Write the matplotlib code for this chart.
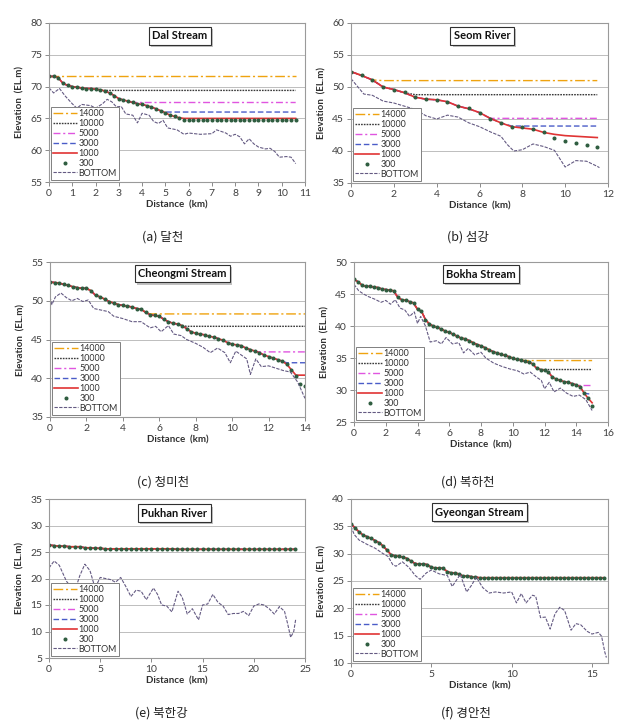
import numpy as np
import matplotlib
matplotlib.use("Agg")
import matplotlib.pyplot as plt
import matplotlib.patheffects as pe

plt.rcParams['font.family'] = ['Lato', 'DejaVu Sans']

W, H = 633, 726

series_labels = ["14000", "10000", "5000", "3000", "1000", "300", "BOTTOM"]

# ---------------- (a) Dal Stream ----------------
a_x = np.round(np.arange(0, 10.61, 0.2), 2)
a_q1000 = [71.6, 71.6, 71.4, 70.5, 70.2, 70.0, 69.9, 69.8, 69.7, 69.7, 69.6, 69.5, 69.3, 69.0,
           68.6, 68.1, 67.9, 67.7, 67.5, 67.3, 67.2, 67.0, 66.8, 66.5, 66.2, 65.9, 65.5, 65.3,
           65.1, 65.0] + [65.0] * 24
a_q300 = a_q1000[:29] + [64.8] * 25
a_levels = [71.6, 69.4, 67.5, 66.0]
a_bx = [0, 0.2, 0.45, 0.7, 1.0, 1.2, 1.4, 1.8, 2.0, 2.3, 2.5, 2.7, 2.9, 3.1, 3.3, 3.6, 3.8, 4.0,
        4.3, 4.5, 4.7, 4.9, 5.1, 5.5, 5.8, 6.0, 6.5, 7.0, 7.2, 7.6, 7.8, 8.0, 8.2, 8.4, 8.6, 8.8,
        9.0, 9.3, 9.5, 9.7, 9.9, 10.2, 10.4, 10.6]
a_by = [69.8, 69.0, 69.7, 68.5, 67.3, 66.6, 67.2, 67.0, 66.6, 67.3, 68.0, 67.6, 66.8, 66.9, 65.7,
        65.5, 64.3, 65.8, 65.5, 64.5, 64.2, 64.7, 63.5, 63.2, 62.5, 62.7, 62.5, 62.6, 63.2, 62.7,
        62.2, 62.5, 62.1, 61.0, 61.8, 61.0, 60.5, 60.2, 60.3, 59.8, 58.9, 59.0, 58.9, 57.9]

# ---------------- (b) Seom River ----------------
b_x = np.round(np.arange(0, 11.51, 0.5), 2)
b_q1000 = [52.4, 51.8, 51.1, 50.0, 49.6, 49.1, 48.4, 48.1, 48.0, 47.7, 47.0, 46.6, 46.0, 45.1,
           44.4, 43.8, 43.6, 43.4, 42.9, 42.6, 42.4, 42.3, 42.2, 42.1]
b_q300 = [52.4, 51.8, 51.1, 50.0, 49.6, 49.2, 48.5, 48.1, 48.0, 47.7, 47.0, 46.7, 46.0, 45.0,
          44.3, 43.8, 43.7, 43.5, 42.9, 42.1, 41.6, 41.3, 40.9, 40.7]
b_levels = [51.0, 48.8, 45.1, 43.9]
b_bx = [0, 0.2, 0.6, 1.0, 1.5, 2.0, 2.5, 3.0, 3.5, 4.0, 4.5, 5.0, 5.5, 6.0, 6.5, 7.0, 7.3, 7.6,
        8.0, 8.5, 9.0, 9.5, 10.0, 10.5, 11.0, 11.5, 11.6]
b_by = [51.3, 50.5, 48.9, 48.7, 47.8, 47.5, 47.0, 46.5, 45.5, 45.0, 45.6, 45.3, 44.4, 43.8, 43.0,
        42.3, 41.0, 40.0, 40.2, 41.1, 40.7, 40.1, 37.5, 38.5, 38.4, 37.6, 37.4]

# ---------------- (c) Cheongmi Stream ----------------
c_x = np.round(np.arange(0, 14.01, 0.25), 2)
c_q1000 = [52.4, 52.35, 52.3, 52.1, 52.0, 51.8, 51.7, 51.6, 51.6, 51.3, 50.7, 50.5, 50.2, 49.9,
           49.7, 49.5, 49.4, 49.3, 49.2, 49.0, 48.9, 48.5, 48.2, 48.1, 48.0, 47.6, 47.3, 47.1,
           47.0, 46.8, 46.4, 46.0, 45.8, 45.7, 45.6, 45.4, 45.3, 45.1, 44.9, 44.6, 44.4, 44.3,
           44.2, 43.9, 43.7, 43.5, 43.3, 43.0, 42.8, 42.6, 42.4, 42.2, 41.8, 41.1, 40.4, 40.4, 40.4]
c_q300 = c_q1000[:54] + [40.3, 39.3, 39.0]
c_levels = [48.3, 46.7, 43.4, 42.0]
c_bx = [0, 0.1, 0.3, 0.6, 0.9, 1.2, 1.5, 1.8, 2.1, 2.4, 2.8, 3.2, 3.5, 4.0, 4.5, 5.0, 5.5, 5.8,
        6.1, 6.5, 6.8, 7.2, 7.5, 8.0, 8.4, 8.8, 9.2, 9.6, 9.9, 10.2, 10.5, 10.8, 11.0, 11.3, 11.6,
        12.0, 12.4, 12.8, 13.2, 13.6, 14.0]
c_by = [50.5, 49.5, 50.5, 51.0, 50.4, 50.0, 50.3, 49.9, 50.1, 49.0, 48.8, 48.6, 48.0, 47.7, 47.3,
        47.3, 46.5, 46.7, 46.0, 46.8, 45.7, 45.5, 45.0, 44.5, 44.0, 43.3, 43.9, 43.3, 42.0, 43.5,
        43.0, 42.5, 40.5, 42.5, 41.5, 41.6, 41.3, 41.0, 40.8, 39.5, 37.4]

# ---------------- (d) Bokha Stream ----------------
d_x = np.round(np.arange(0, 15.01, 0.25), 2)
d_q1000 = [47.3, 46.9, 46.4, 46.2, 46.2, 46.1, 46.0, 45.8, 45.7, 45.6, 45.5, 44.5, 44.1, 44.0,
           43.8, 43.6, 42.6, 42.3, 41.0, 40.3, 40.0, 39.8, 39.5, 39.2, 39.0, 38.7, 38.4, 38.1,
           38.0, 37.7, 37.4, 37.1, 36.9, 36.6, 36.3, 36.0, 35.8, 35.6, 35.4, 35.2, 35.0, 34.8,
           34.7, 34.5, 34.3, 34.1, 33.4, 33.2, 33.1, 32.8, 32.0, 31.7, 31.5, 31.3, 31.2, 31.0,
           30.8, 30.5, 29.5, 28.7, 28.0]
d_q300 = d_q1000[:60] + [27.5]
d_levels = [34.6, 33.2, 30.7, 29.4]
d_bx = [0, 0.3, 0.6, 0.9, 1.3, 1.7, 2.0, 2.3, 2.6, 2.9, 3.2, 3.5, 3.8, 4.0, 4.2, 4.5, 4.8, 5.2,
        5.5, 5.8, 6.2, 6.6, 6.9, 7.2, 7.6, 8.0, 8.3, 8.8, 9.3, 9.8, 10.3, 10.7, 11.1, 11.5, 11.8,
        12.0, 12.3, 12.6, 13.0, 13.4, 13.8, 14.2, 14.6, 15.0]
d_by = [46.5, 45.5, 45.0, 44.6, 44.2, 43.7, 44.0, 43.4, 44.1, 42.8, 42.5, 41.5, 42.2, 40.4, 41.5,
        40.0, 37.5, 37.7, 37.2, 38.2, 37.2, 37.4, 35.8, 36.5, 35.5, 35.9, 35.0, 34.2, 33.7, 33.3,
        33.0, 32.5, 32.8, 32.0, 31.5, 30.2, 31.2, 29.7, 30.3, 29.5, 29.0, 29.2, 28.5, 26.8]

# ---------------- (e) Pukhan River ----------------
e_x = np.round(np.arange(0, 24.01, 0.5), 2)
e_q1000 = [26.3, 26.2, 26.1, 26.1, 26.0, 26.0, 26.0, 25.8, 25.8, 25.7, 25.7] + [25.6] * 14 + [25.5] * 24
e_q300 = list(e_q1000)
e_levels = [25.5, 25.5, 25.5, 25.5]
e_bx = [0, 0.5, 1.0, 1.7, 2.5, 3.0, 3.5, 4.0, 4.5, 5.0, 6.0, 6.5, 7.0, 7.5, 8.0, 8.5, 9.0, 9.5,
        10.2, 10.6, 11.0, 11.5, 12.0, 12.6, 13.0, 13.5, 14.0, 14.6, 15.0, 15.5, 16.0, 16.5, 17.0,
        17.5, 18.0, 18.5, 19.0, 19.5, 20.0, 20.5, 21.0, 21.5, 22.0, 22.5, 23.0, 23.3, 23.6, 23.9, 24.1]
e_by = [22.0, 23.3, 22.5, 19.5, 17.5, 20.5, 22.7, 21.5, 18.2, 20.2, 19.8, 19.3, 20.2, 18.5, 16.6,
        17.8, 17.6, 16.0, 18.2, 17.0, 15.0, 14.8, 13.7, 17.6, 16.5, 13.3, 14.3, 12.2, 15.0, 15.2,
        17.0, 15.5, 14.8, 13.2, 13.4, 13.4, 13.8, 13.0, 14.8, 15.2, 15.0, 14.3, 13.3, 14.7, 13.8,
        11.5, 8.9, 10.0, 12.4]

# ---------------- (f) Gyeongan Stream ----------------
f_x = np.round(np.arange(0, 15.76, 0.25), 2)
f_q1000 = [35.5, 34.7, 34.0, 33.4, 33.1, 32.8, 32.4, 32.0, 31.4, 30.6, 29.8, 29.6, 29.5, 29.4,
           29.1, 28.6, 28.2, 28.1, 28.1, 28.0, 27.5, 27.4, 27.4, 27.3, 26.7, 26.5, 26.5, 26.2,
           25.9, 25.9, 25.8, 25.7] + [25.6] * 32
f_q300 = list(f_q1000)
f_levels = [25.6, 25.6, 25.6, 25.6]
f_bx = [0, 0.2, 0.5, 1.0, 1.5, 2.0, 2.3, 2.6, 2.8, 3.2, 3.6, 4.0, 4.3, 4.7, 5.0, 5.5, 6.0, 6.3,
        6.6, 6.8, 7.2, 7.5, 7.8, 8.2, 8.6, 9.0, 9.5, 10.0, 10.3, 10.6, 10.9, 11.3, 11.5, 11.8,
        12.1, 12.4, 12.7, 13.0, 13.3, 13.7, 14.0, 14.3, 14.7, 15.0, 15.4, 15.6, 15.8, 15.9]
f_by = [35.0, 33.5, 32.5, 31.7, 31.0, 30.0, 29.5, 28.0, 27.7, 28.5, 27.5, 26.0, 25.3, 26.5, 27.0,
        26.3, 26.0, 24.0, 25.3, 26.2, 23.0, 24.2, 25.7, 23.8, 22.8, 23.0, 22.8, 23.0, 21.0, 22.7,
        21.0, 22.4, 22.2, 18.3, 18.4, 16.2, 19.0, 20.2, 19.6, 16.0, 17.2, 17.0, 15.8, 15.3, 15.6,
        14.9, 12.0, 11.0]

panels = [
    dict(title="Dal Stream", cap="(a) 달천", x=a_x, q1000=a_q1000, q300=a_q300, lv=a_levels,
         bx=a_bx, by=a_by, xlim=(0, 11), xt=np.arange(0, 12, 1), ylim=(55, 80), yt=np.arange(55, 81, 5),
         box=(49, 23, 305, 182), tpos=(0.51, 0.92), cpos=(163, 237)),
    dict(title="Seom River", cap="(b) 섬강", x=b_x, q1000=b_q1000, q300=b_q300, lv=b_levels,
         bx=b_bx, by=b_by, xlim=(0, 12), xt=np.arange(0, 13, 2), ylim=(35, 60), yt=np.arange(35, 61, 5),
         box=(351, 23, 608, 183), tpos=(0.51, 0.92), cpos=(468, 237)),
    dict(title="Cheongmi Stream", cap="(c) 청미천", x=c_x, q1000=c_q1000, q300=c_q300, lv=c_levels,
         bx=c_bx, by=c_by, xlim=(0, 14), xt=np.arange(0, 15, 2), ylim=(35, 55), yt=np.arange(35, 56, 5),
         box=(50, 262, 305, 417), tpos=(0.52, 0.925), cpos=(163, 482)),
    dict(title="Bokha Stream", cap="(d) 복하천", x=d_x, q1000=d_q1000, q300=d_q300, lv=d_levels,
         bx=d_bx, by=d_by, xlim=(0, 16), xt=np.arange(0, 17, 2), ylim=(25, 50), yt=np.arange(25, 51, 5),
         box=(354, 262, 608, 422), tpos=(0.50, 0.925), cpos=(468, 482)),
    dict(title="Pukhan River", cap="(e) 북한강", x=e_x, q1000=e_q1000, q300=e_q300, lv=e_levels,
         bx=e_bx, by=e_by, xlim=(0, 25), xt=np.arange(0, 26, 5), ylim=(5, 35), yt=np.arange(5, 36, 5),
         box=(49, 499, 305, 658), tpos=(0.49, 0.91), cpos=(161, 713)),
    dict(title="Gyeongan Stream", cap="(f) 경안천", x=f_x, q1000=f_q1000, q300=f_q300, lv=f_levels,
         bx=f_bx, by=f_by, xlim=(0, 16), xt=np.arange(0, 16, 5), ylim=(10, 40), yt=np.arange(10, 41, 5),
         box=(351, 499, 608, 663), tpos=(0.50, 0.92), cpos=(466, 713)),
]

styles = [
    dict(color='#EFA30F', ls=(0, (7, 2, 1.5, 2)), lw=1.0),
    dict(color='#3A3A3A', ls=(0, (1.2, 0.8)), lw=1.0),
    dict(color='#E055E0', ls=(0, (5, 2, 1.5, 2)), lw=1.0),
    dict(color='#4A5CC8', ls=(0, (4, 2)), lw=1.0),
    dict(color='#E03434', ls='-', lw=1.2),
]
dot_color = '#2F5D40'
bottom_style = dict(color='#645A82', ls=(0, (3, 1.2)), lw=0.8)

fig = plt.figure(figsize=(W / 100, H / 100), dpi=100)

for p in panels:
    l, t, r, b = p['box']
    ax = fig.add_axes([l / W, 1 - b / H, (r - l) / W, (b - t) / H])
    x = np.asarray(p['x'])
    q1000 = np.asarray(p['q1000'])
    for lvl, st, lab in zip(p['lv'], styles[:4], series_labels[:4]):
        ax.plot(x, np.maximum(q1000, lvl), label=lab, **st)
    ax.plot(x, q1000, label=series_labels[4], **styles[4])
    ax.plot(x, p['q300'], 'o', ms=1.9, color=dot_color, mec=dot_color, label=series_labels[5])
    ax.plot(p['bx'], p['by'], label=series_labels[6], **bottom_style)

    ax.set_xlim(*p['xlim'])
    ax.set_ylim(*p['ylim'])
    ax.set_xticks(p['xt'])
    ax.set_yticks(p['yt'])
    ax.yaxis.grid(True, color='#BDBDBD', lw=0.7)
    ax.set_axisbelow(True)
    for s in ax.spines.values():
        s.set_color('#9A9A9A')
        s.set_linewidth(0.8)
    ax.tick_params(axis='both', labelsize=7.5, colors='#8A8A8A', labelcolor='#404040',
                   length=3, width=0.7, pad=2)
    ax.set_xlabel("Distance  (km)", fontsize=7, fontweight='bold', color='#303030', labelpad=2)
    ax.set_ylabel("Elevation  (EL.m)", fontsize=7, fontweight='bold', color='#303030', labelpad=4)

    ax.text(p['tpos'][0], p['tpos'][1], p['title'], transform=ax.transAxes, ha='center', va='center',
            fontsize=8, fontweight='bold', color='#111111',
            bbox=dict(boxstyle='square,pad=0.3', fc='white', ec='#303030', lw=0.8,
                      path_effects=[pe.withSimplePatchShadow(offset=(1.5, -1.5), shadow_rgbFace='#999999', alpha=0.6)]))

    leg = ax.legend(loc='lower left', bbox_to_anchor=(0.0, 0.0), fontsize=6.4, frameon=True,
                    fancybox=False, edgecolor='#808080', framealpha=1, borderpad=0.25,
                    labelspacing=0.1, handlelength=2.6, handletextpad=0.2, borderaxespad=0.25,
                    markerscale=1.0)
    leg.get_frame().set_linewidth(0.7)
    for txt in leg.get_texts():
        txt.set_color('#303030')

    cx, cy = p['cpos']
    fig.text(cx / W, 1 - cy / H, p['cap'], ha='center', va='center', fontsize=9, color='#202020',
             family=['Noto Sans CJK KR', 'DejaVu Sans'])

fig.savefig("out.png", dpi=100, facecolor='white')
